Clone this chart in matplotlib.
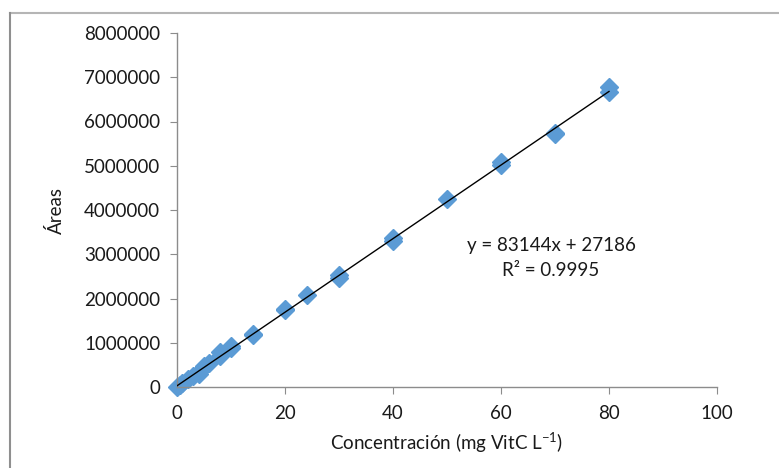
import matplotlib
matplotlib.use("Agg")
import matplotlib.pyplot as plt
from matplotlib.lines import Line2D
import numpy as np

plt.rcParams['font.family'] = ['Lato', 'DejaVu Sans']
plt.rcParams['mathtext.fontset'] = 'custom'
plt.rcParams['mathtext.rm'] = 'Lato'
plt.rcParams['axes.unicode_minus'] = False

conc = [0, 0.5, 1, 2, 3, 4, 4, 5, 6, 8, 8, 10, 10, 14, 14, 20, 20, 24,
        30, 30, 40, 40, 50, 60, 60, 70, 70, 80, 80]
areas = [0, 50000, 100000, 180000, 250000, 350000, 300000, 470000, 550000,
         800000, 700000, 920000, 880000, 1200000, 1170000, 1760000, 1740000,
         2090000, 2520000, 2470000, 3360000, 3300000, 4250000, 5080000,
         5020000, 5750000, 5720000, 6780000, 6670000]
slope = 83144
intercept = 27186
r2 = 0.9995
xticks = [0, 20, 40, 60, 80, 100]
yticks = [0, 1000000, 2000000, 3000000, 4000000, 5000000, 6000000, 7000000, 8000000]

TXT = '#1a1a1a'
FS = 13.5

fig = plt.figure(figsize=(7.79, 4.68), dpi=100)
ax = fig.add_axes([177/779, 1-387/468, (717-177)/779, (387-33)/468])

ax.plot(conc, areas, linestyle='none', marker='D', markersize=9,
        color='#5b9bd5', markeredgecolor='#5b9bd5', zorder=2, clip_on=False)
xl = np.array([min(conc), max(conc)])
ax.plot(xl, slope*xl + intercept, color='black', lw=1, zorder=3)

ax.set_xlim(0, 100)
ax.set_ylim(0, 8000000)
ax.set_xticks(xticks)
ax.set_yticks(yticks)
ax.set_xticklabels([str(v) for v in xticks])
ax.set_yticklabels([str(v) for v in yticks])
for s in ['top', 'right']:
    ax.spines[s].set_visible(False)
for s in ['left', 'bottom']:
    ax.spines[s].set_color('#8c8c8c')
    ax.spines[s].set_linewidth(1)
ax.tick_params(axis='both', colors='#8c8c8c', labelcolor=TXT,
               labelsize=FS, length=5, direction='out')
ax.tick_params(axis='x', pad=8)
ax.tick_params(axis='y', pad=7)

ax.set_xlabel('Concentración (mg VitC L$^{\\mathregular{-1}}$)', fontsize=FS,
              color=TXT, labelpad=6)
ax.set_ylabel('Áreas', fontsize=FS, color=TXT, labelpad=14)

ax.text(551/779, 1-245/468, 'y = %dx + %d' % (slope, intercept), transform=fig.transFigure,
        ha='center', va='center', fontsize=FS, color=TXT)
ax.text(551/779, 1-270/468, 'R² = %.4f' % r2, transform=fig.transFigure,
        ha='center', va='center', fontsize=FS, color=TXT)

# outer chart frame
fig.add_artist(Line2D([10/779, 1], [1-13/468, 1-13/468], transform=fig.transFigure,
                      color='#b5b5b5', lw=1.5))
fig.add_artist(Line2D([10/779, 10/779], [0, 1-13/468], transform=fig.transFigure,
                      color='#8f8f8f', lw=1.5))

fig.savefig('out.png', dpi=100)
